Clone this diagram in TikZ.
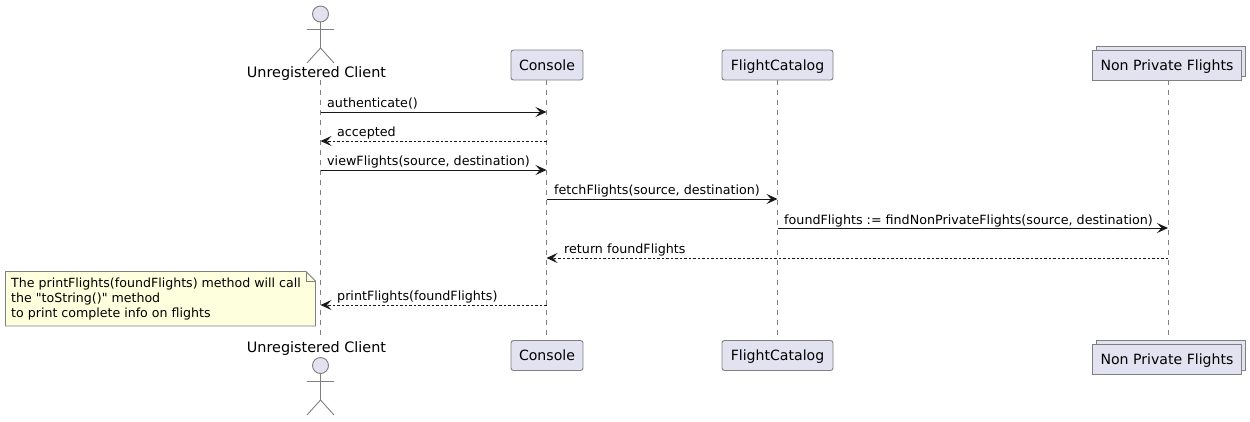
\documentclass[tikz,border=0pt]{standalone}
\usepackage{fontspec}
\setmainfont{DejaVu Sans}
\newfontfamily\plainface{DejaVu Sans}
\usetikzlibrary{arrows.meta}
\definecolor{partfill}{HTML}{E2E2F0}
\definecolor{notefill}{HTML}{FEFFDD}
\definecolor{edgecol}{HTML}{808084}
\definecolor{ink}{HTML}{181818}
\tikzset{
  x=1pt,y=-1pt,
  part/.style={draw=edgecol,fill=partfill,line width=0.9pt,rounded corners=2.5pt,minimum height=30pt,inner sep=0pt,anchor=center,text height=13pt,text depth=3pt,font=\fontsize{14.1}{16}\selectfont,text=black},
  coll/.style={draw=edgecol,fill=partfill,line width=0.9pt,minimum height=30pt,minimum width=149pt,inner sep=0pt,anchor=center,text height=13pt,text depth=3pt,font=\fontsize{14.1}{16}\selectfont,text=black},
  collback/.style={draw=edgecol,fill=partfill,line width=0.9pt,minimum height=30pt,minimum width=149pt,inner sep=0pt,anchor=center},
  actorlabel/.style={inner sep=0pt,anchor=center,text height=11pt,text depth=3pt,font=\fontsize{14.4}{16}\selectfont,text=black},
  actorline/.style={draw=edgecol,line width=0.9pt},
  lifeline/.style={draw=edgecol,line width=0.8pt,dash pattern=on 5pt off 5pt},
  msg/.style={draw=ink,line width=1pt,-{Stealth[length=11pt,width=10pt,inset=4.5pt]}},
  reply/.style={msg,dash pattern=on 2.5pt off 2pt},
  msglabel/.style={inner sep=0pt,anchor=base west,font=\fontsize{12.7}{15}\selectfont,text=black},
  notetext/.style={inner sep=0pt,anchor=north west,align=left,font=\plainface\fontsize{12.6}{15}\selectfont,text=black},
}
\begin{document}
\begin{tikzpicture}
\useasboundingbox (0,0) rectangle (1250,421);
% lifeline anchors
\coordinate (cltop) at (320.5,80);
\coordinate (clbot) at (320.5,340);
\coordinate (cotop) at (546.5,80);
\coordinate (cobot) at (546.5,340);
\coordinate (fltop) at (777.5,80);
\coordinate (flbot) at (777.5,340);
\coordinate (nptop) at (1168,80);
\coordinate (npbot) at (1168,340);
\draw[lifeline] (cltop) -- (clbot);
\draw[lifeline] (cotop) -- (cobot);
\draw[lifeline] (fltop) -- (flbot);
\draw[lifeline] (nptop) -- (npbot);
% top actor
\node[actorline,circle,fill=partfill,minimum size=16pt,inner sep=0pt] (headtop) at (320.5,14) {};
\coordinate (hiptop) at (320.5,48);
\coordinate (armltop) at (307,29);
\coordinate (armrtop) at (334,29);
\coordinate (legltop) at (307,63);
\coordinate (legrtop) at (334,63);
\draw[actorline] (headtop.south) -- (hiptop);
\draw[actorline] (armltop) -- (armrtop);
\draw[actorline] (legltop) -- (hiptop) -- (legrtop);
\node[actorlabel] (cltext) at (316.5,73) {Unregistered Client};
% bottom actor
\node[actorlabel] (clbtext) at (316.5,348.5) {Unregistered Client};
\node[actorline,circle,fill=partfill,minimum size=16pt,inner sep=0pt] (headbot) at (320.5,365.5) {};
\coordinate (hipbot) at (320.5,400);
\coordinate (armlbot) at (307,381);
\coordinate (armrbot) at (334,381);
\coordinate (leglbot) at (307,415);
\coordinate (legrbot) at (334,415);
\draw[actorline] (headbot.south) -- (hipbot);
\draw[actorline] (armlbot) -- (armrbot);
\draw[actorline] (leglbot) -- (hipbot) -- (legrbot);
% participants
\node[part,minimum width=72pt] (contop) at (547,65) {Console};
\node[part,minimum width=111pt] (fltopbox) at (777.5,65) {FlightCatalog};
\node[collback] (npbacktop) at (1171,61) {};
\node[coll] (npfronttop) at (1167,65) {Non Private Flights};
\node[part,minimum width=72pt] (conbot) at (547,355.5) {Console};
\node[part,minimum width=111pt] (flbotbox) at (777.5,355.5) {FlightCatalog};
\node[collback] (npbackbot) at (1171,355) {};
\node[coll] (npfrontbot) at (1167,359) {Non Private Flights};
% message ends
\coordinate (a1) at (320.5,112); \coordinate (b1) at (546.5,112);
\coordinate (a2) at (546.5,141); \coordinate (b2) at (320.5,141);
\coordinate (a3) at (320.5,170); \coordinate (b3) at (546.5,170);
\coordinate (a4) at (546.5,199); \coordinate (b4) at (777.5,199);
\coordinate (a5) at (777.5,228); \coordinate (b5) at (1168,228);
\coordinate (a6) at (1168,258);  \coordinate (b6) at (546.5,258);
\coordinate (a7) at (546.5,305); \coordinate (b7) at (320.5,305);
\draw[msg] (a1) -- (b1);
\draw[reply] (a2) -- (b2);
\draw[msg] (a3) -- (b3);
\draw[msg] (a4) -- (b4);
\draw[msg] (a5) -- (b5);
\draw[reply] (a6) -- (b6);
\draw[reply] (a7) -- (b7);
\node[msglabel] (m1) at (327,107) {authenticate()};
\node[msglabel] (m2) at (337,136) {accepted};
\node[msglabel] (m3) at (327,165) {viewFlights(source, destination)};
\node[msglabel] (m4) at (554,194) {fetchFlights(source, destination)};
\node[msglabel] (m5) at (784,224) {foundFlights := findNonPrivateFlights(source, destination)};
\node[msglabel] (m6) at (564,253) {return foundFlights};
\node[msglabel] (m7) at (337,300) {printFlights(foundFlights)};
% note
\draw[draw=edgecol,fill=notefill,line width=0.9pt] (5.5,271.5) -- (306,271.5) -- (315.5,281) -- (315.5,326) -- (5.5,326) -- cycle;
\draw[draw=edgecol,line width=0.9pt] (306,271.5) -- (306,281) -- (315.5,281);
\node[notetext] (notebody) at (11,278) {The printFlights(foundFlights) method will call\\the "toString()" method\\to print complete info on flights};
\end{tikzpicture}
\end{document}
